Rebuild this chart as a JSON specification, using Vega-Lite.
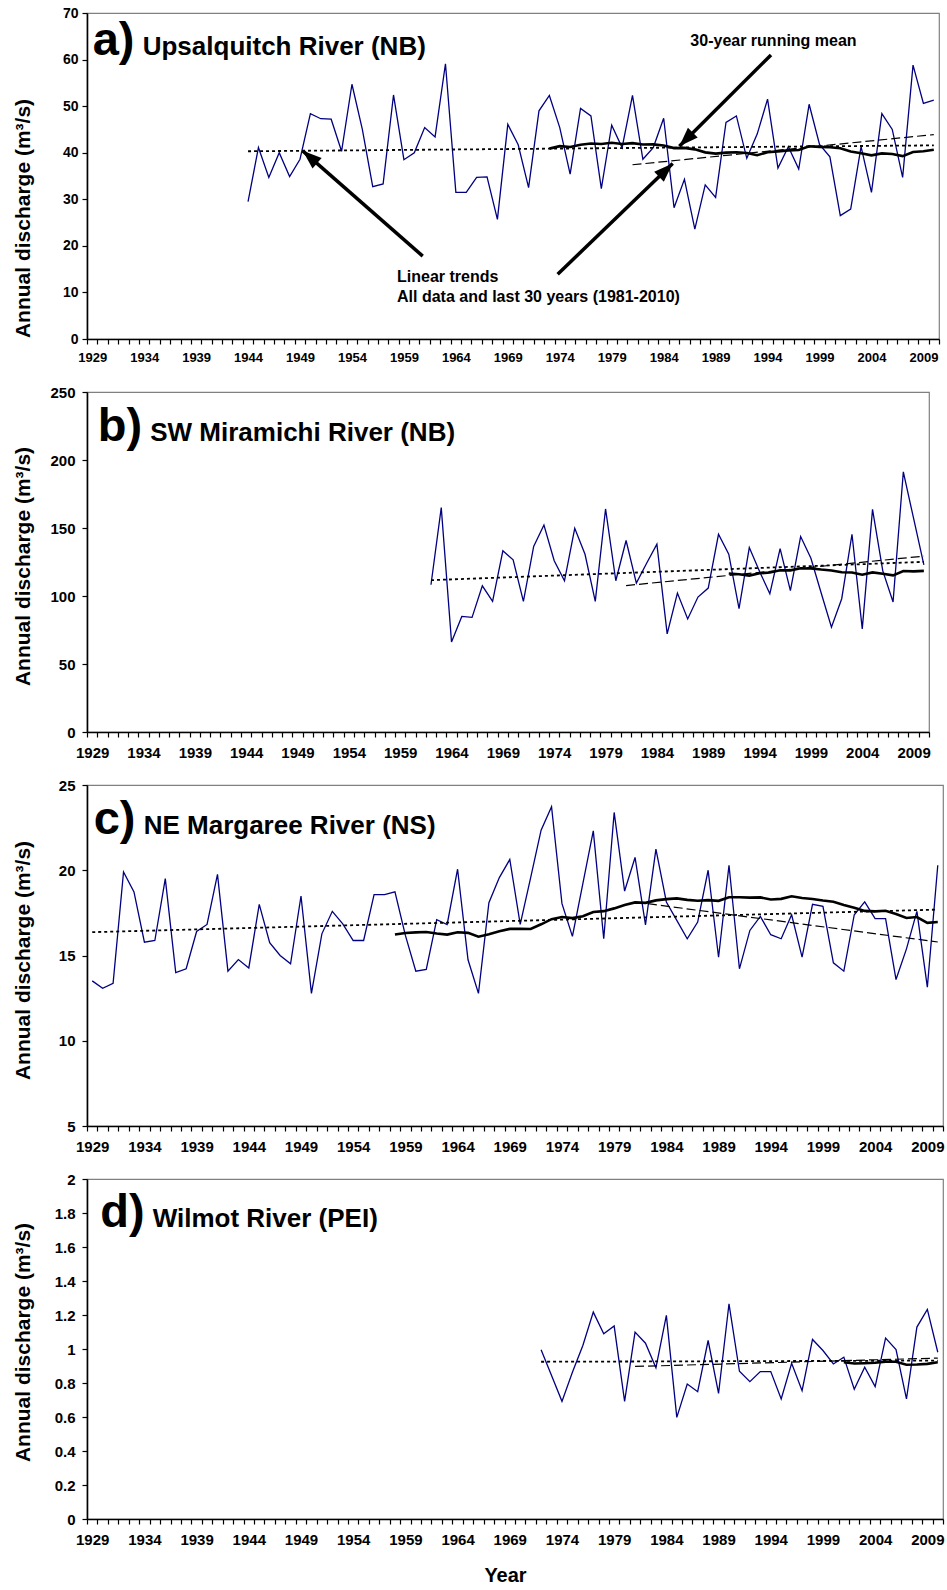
{
  "$schema": "https://vega.github.io/schema/vega-lite/v6.json",
  "background": "white",
  "padding": {"left": 11, "top": 5, "right": 5, "bottom": 5},
  "config": {
    "font": "Liberation Sans",
    "view": {"stroke": "#808080", "strokeWidth": 1.2},
    "axis": {
      "grid": false,
      "domainColor": "#000000",
      "domainWidth": 1.6,
      "tickColor": "#000000",
      "tickWidth": 1.2,
      "tickSize": 5,
      "labelColor": "#000000",
      "labelFont": "Liberation Sans",
      "labelFontWeight": "bold",
      "titleColor": "#000000",
      "titleFont": "Liberation Sans",
      "titleFontWeight": "bold"
    }
  },
  "datasets": {
    "upsalquitch": [
      {"year": 1944, "q": 29.5}, {"year": 1945, "q": 41.1}, {"year": 1946, "q": 34.7}, {"year": 1947, "q": 40.0},
      {"year": 1948, "q": 34.9}, {"year": 1949, "q": 38.6}, {"year": 1950, "q": 48.4}, {"year": 1951, "q": 47.3},
      {"year": 1952, "q": 47.2}, {"year": 1953, "q": 40.3}, {"year": 1954, "q": 54.7}, {"year": 1955, "q": 45.0},
      {"year": 1956, "q": 32.7}, {"year": 1957, "q": 33.3}, {"year": 1958, "q": 52.4}, {"year": 1959, "q": 38.5},
      {"year": 1960, "q": 40.0}, {"year": 1961, "q": 45.4}, {"year": 1962, "q": 43.4}, {"year": 1963, "q": 59.1},
      {"year": 1964, "q": 31.5}, {"year": 1965, "q": 31.5}, {"year": 1966, "q": 34.7}, {"year": 1967, "q": 34.8},
      {"year": 1968, "q": 25.7}, {"year": 1969, "q": 46.1}, {"year": 1970, "q": 41.7}, {"year": 1971, "q": 32.5},
      {"year": 1972, "q": 49.0}, {"year": 1973, "q": 52.3}, {"year": 1974, "q": 45.4}, {"year": 1975, "q": 35.4},
      {"year": 1976, "q": 49.5}, {"year": 1977, "q": 47.9}, {"year": 1978, "q": 32.3}, {"year": 1979, "q": 45.9},
      {"year": 1980, "q": 41.1}, {"year": 1981, "q": 52.3}, {"year": 1982, "q": 38.6}, {"year": 1983, "q": 41.1},
      {"year": 1984, "q": 47.4}, {"year": 1985, "q": 28.2}, {"year": 1986, "q": 34.3}, {"year": 1987, "q": 23.6},
      {"year": 1988, "q": 33.1}, {"year": 1989, "q": 30.4}, {"year": 1990, "q": 46.5}, {"year": 1991, "q": 47.9},
      {"year": 1992, "q": 38.8}, {"year": 1993, "q": 44.0}, {"year": 1994, "q": 51.5}, {"year": 1995, "q": 36.7},
      {"year": 1996, "q": 41.3}, {"year": 1997, "q": 36.5}, {"year": 1998, "q": 50.4}, {"year": 1999, "q": 41.8},
      {"year": 2000, "q": 39.1}, {"year": 2001, "q": 26.5}, {"year": 2002, "q": 27.9}, {"year": 2003, "q": 41.3},
      {"year": 2004, "q": 31.5}, {"year": 2005, "q": 48.4}, {"year": 2006, "q": 45.0}, {"year": 2007, "q": 34.7},
      {"year": 2008, "q": 58.8}, {"year": 2009, "q": 50.6}, {"year": 2010, "q": 51.3}
    ],
    "miramichi": [
      {"year": 1962, "q": 108.3}, {"year": 1963, "q": 165.0}, {"year": 1964, "q": 66.2}, {"year": 1965, "q": 85.0},
      {"year": 1966, "q": 84.3}, {"year": 1967, "q": 107.5}, {"year": 1968, "q": 96.0}, {"year": 1969, "q": 133.2},
      {"year": 1970, "q": 126.6}, {"year": 1971, "q": 96.0}, {"year": 1972, "q": 136.4}, {"year": 1973, "q": 152.2},
      {"year": 1974, "q": 125.9}, {"year": 1975, "q": 111.2}, {"year": 1976, "q": 149.8}, {"year": 1977, "q": 130.7},
      {"year": 1978, "q": 96.0}, {"year": 1979, "q": 164.0}, {"year": 1980, "q": 111.2}, {"year": 1981, "q": 140.8},
      {"year": 1982, "q": 109.5}, {"year": 1983, "q": 124.1}, {"year": 1984, "q": 138.1}, {"year": 1985, "q": 72.1},
      {"year": 1986, "q": 102.2}, {"year": 1987, "q": 83.1}, {"year": 1988, "q": 99.2}, {"year": 1989, "q": 105.8},
      {"year": 1990, "q": 145.4}, {"year": 1991, "q": 130.7}, {"year": 1992, "q": 90.7}, {"year": 1993, "q": 135.6},
      {"year": 1994, "q": 118.0}, {"year": 1995, "q": 101.7}, {"year": 1996, "q": 134.9}, {"year": 1997, "q": 103.9},
      {"year": 1998, "q": 143.7}, {"year": 1999, "q": 127.8}, {"year": 2000, "q": 102.2}, {"year": 2001, "q": 77.0},
      {"year": 2002, "q": 98.0}, {"year": 2003, "q": 145.4}, {"year": 2004, "q": 75.8}, {"year": 2005, "q": 163.7},
      {"year": 2006, "q": 118.5}, {"year": 2007, "q": 95.6}, {"year": 2008, "q": 191.3}, {"year": 2009, "q": 157.0},
      {"year": 2010, "q": 122.9}
    ],
    "margaree": [
      {"year": 1929, "q": 13.51}, {"year": 1930, "q": 13.08}, {"year": 1931, "q": 13.37}, {"year": 1932, "q": 19.9},
      {"year": 1933, "q": 18.73}, {"year": 1934, "q": 15.78}, {"year": 1935, "q": 15.88}, {"year": 1936, "q": 19.51},
      {"year": 1937, "q": 14.0}, {"year": 1938, "q": 14.22}, {"year": 1939, "q": 16.41}, {"year": 1940, "q": 16.82},
      {"year": 1941, "q": 19.76}, {"year": 1942, "q": 14.08}, {"year": 1943, "q": 14.76}, {"year": 1944, "q": 14.27},
      {"year": 1945, "q": 18.0}, {"year": 1946, "q": 15.75}, {"year": 1947, "q": 15.0}, {"year": 1948, "q": 14.51},
      {"year": 1949, "q": 18.49}, {"year": 1950, "q": 12.78}, {"year": 1951, "q": 16.27}, {"year": 1952, "q": 17.59},
      {"year": 1953, "q": 16.86}, {"year": 1954, "q": 15.88}, {"year": 1955, "q": 15.88}, {"year": 1956, "q": 18.57},
      {"year": 1957, "q": 18.57}, {"year": 1958, "q": 18.73}, {"year": 1959, "q": 16.18}, {"year": 1960, "q": 14.08},
      {"year": 1961, "q": 14.18}, {"year": 1962, "q": 17.1}, {"year": 1963, "q": 16.82}, {"year": 1964, "q": 20.06},
      {"year": 1965, "q": 14.75}, {"year": 1966, "q": 12.78}, {"year": 1967, "q": 18.1}, {"year": 1968, "q": 19.57},
      {"year": 1969, "q": 20.63}, {"year": 1970, "q": 16.82}, {"year": 1971, "q": 19.57}, {"year": 1972, "q": 22.35},
      {"year": 1973, "q": 23.73}, {"year": 1974, "q": 18.04}, {"year": 1975, "q": 16.12}, {"year": 1976, "q": 19.22},
      {"year": 1977, "q": 22.31}, {"year": 1978, "q": 15.98}, {"year": 1979, "q": 23.39}, {"year": 1980, "q": 18.78},
      {"year": 1981, "q": 20.75}, {"year": 1982, "q": 16.8}, {"year": 1983, "q": 21.24}, {"year": 1984, "q": 18.14},
      {"year": 1985, "q": 17.06}, {"year": 1986, "q": 15.98}, {"year": 1987, "q": 16.96}, {"year": 1988, "q": 20.0},
      {"year": 1989, "q": 14.9}, {"year": 1990, "q": 20.29}, {"year": 1991, "q": 14.22}, {"year": 1992, "q": 16.47},
      {"year": 1993, "q": 17.29}, {"year": 1994, "q": 16.22}, {"year": 1995, "q": 15.98}, {"year": 1996, "q": 17.39},
      {"year": 1997, "q": 14.9}, {"year": 1998, "q": 18.0}, {"year": 1999, "q": 17.88}, {"year": 2000, "q": 14.57},
      {"year": 2001, "q": 14.08}, {"year": 2002, "q": 17.39}, {"year": 2003, "q": 18.14}, {"year": 2004, "q": 17.16},
      {"year": 2005, "q": 17.16}, {"year": 2006, "q": 13.59}, {"year": 2007, "q": 15.39}, {"year": 2008, "q": 17.59},
      {"year": 2009, "q": 13.14}, {"year": 2010, "q": 20.29}
    ],
    "wilmot": [
      {"year": 1972, "q": 0.995}, {"year": 1973, "q": 0.844}, {"year": 1974, "q": 0.692}, {"year": 1975, "q": 0.863},
      {"year": 1976, "q": 1.021}, {"year": 1977, "q": 1.217}, {"year": 1978, "q": 1.089}, {"year": 1979, "q": 1.135},
      {"year": 1980, "q": 0.692}, {"year": 1981, "q": 1.099}, {"year": 1982, "q": 1.034}, {"year": 1983, "q": 0.889},
      {"year": 1984, "q": 1.198}, {"year": 1985, "q": 0.598}, {"year": 1986, "q": 0.794}, {"year": 1987, "q": 0.749},
      {"year": 1988, "q": 1.05}, {"year": 1989, "q": 0.739}, {"year": 1990, "q": 1.266}, {"year": 1991, "q": 0.869},
      {"year": 1992, "q": 0.808}, {"year": 1993, "q": 0.867}, {"year": 1994, "q": 0.867}, {"year": 1995, "q": 0.706},
      {"year": 1996, "q": 0.916}, {"year": 1997, "q": 0.755}, {"year": 1998, "q": 1.056}, {"year": 1999, "q": 0.991},
      {"year": 2000, "q": 0.912}, {"year": 2001, "q": 0.952}, {"year": 2002, "q": 0.763}, {"year": 2003, "q": 0.893},
      {"year": 2004, "q": 0.779}, {"year": 2005, "q": 1.064}, {"year": 2006, "q": 0.997}, {"year": 2007, "q": 0.706},
      {"year": 2008, "q": 1.129}, {"year": 2009, "q": 1.233}, {"year": 2010, "q": 0.981}
    ]
  },
  "bounds": "flush",
  "spacing": 53,
  "vconcat": [
    {
      "width": 852,
      "height": 326,
      "layer": [
        {
          "data": {"name": "upsalquitch"},
          "encoding": {
            "x": {
              "field": "year", "type": "quantitative",
              "scale": {"domain": [1928.5, 2010.5], "nice": false, "zero": false},
              "axis": {
                "title": null,
                "values": [1928.5,1929.5,1930.5,1931.5,1932.5,1933.5,1934.5,1935.5,1936.5,1937.5,1938.5,1939.5,1940.5,1941.5,1942.5,1943.5,1944.5,1945.5,1946.5,1947.5,1948.5,1949.5,1950.5,1951.5,1952.5,1953.5,1954.5,1955.5,1956.5,1957.5,1958.5,1959.5,1960.5,1961.5,1962.5,1963.5,1964.5,1965.5,1966.5,1967.5,1968.5,1969.5,1970.5,1971.5,1972.5,1973.5,1974.5,1975.5,1976.5,1977.5,1978.5,1979.5,1980.5,1981.5,1982.5,1983.5,1984.5,1985.5,1986.5,1987.5,1988.5,1989.5,1990.5,1991.5,1992.5,1993.5,1994.5,1995.5,1996.5,1997.5,1998.5,1999.5,2000.5,2001.5,2002.5,2003.5,2004.5,2005.5,2006.5,2007.5,2008.5,2009.5,2010.5],
                "tickCount": 500,
                "labelExpr": "(datum.value + 0.5 - 1929) % 5 == 0 ? format(datum.value + 0.5, 'd') : ''",
                "labelOffset": 5.2,
                "labelOverlap": false,
                "labelFlush": false,
                "labelBound": false,
                "labelFontSize": 13,
                "labelPadding": 7
              }
            },
            "y": {
              "field": "q", "type": "quantitative",
              "scale": {"domain": [0, 70], "nice": false, "zero": false},
              "axis": {
                "title": "Annual discharge (m³/s)",
                "values": [0, 10, 20, 30, 40, 50, 60, 70],
                "format": "d",
                "tickCount": 100,
                "labelOverlap": false,
                "titleFontSize": 21,
                "titleAngle": 270,
                "titleAlign": "center",
                "titleBaseline": "middle",
                "titleX": -64,
                "titleY": 205,
                "labelFontSize": 14,
                "labelPadding": 4
              }
            }
          },
          "layer": [
            {"mark": {"type": "line", "color": "#000080", "strokeWidth": 1.3}},
            {
              "transform": [{"regression": "q", "on": "year"}],
              "mark": {"type": "line", "color": "#000000", "strokeWidth": 1.8, "strokeDash": [3, 3]}
            },
            {
              "transform": [{"filter": "datum.year >= 1981"}, {"regression": "q", "on": "year"}],
              "mark": {"type": "line", "color": "#000000", "strokeWidth": 1.2, "strokeDash": [9, 4]}
            },
            {
              "transform": [
                {"window": [{"op": "mean", "field": "q", "as": "rm"}, {"op": "count", "as": "n"}], "frame": [-29, 0], "sort": [{"field": "year"}]},
                {"filter": "datum.n == 30"}
              ],
              "mark": {"type": "line", "color": "#000000", "strokeWidth": 2.6},
              "encoding": {"y": {"field": "rm", "type": "quantitative"}}
            }
          ]
        },
        {
          "data": {"values": [{"note": 1}]},
          "mark": {"type": "text", "text": "a)", "fontSize": 47, "fontWeight": "bold", "color": "#000000", "align": "left", "baseline": "alphabetic"},
          "encoding": {"x": {"datum": 1929.05, "type": "quantitative"}, "y": {"datum": 61.0, "type": "quantitative"}}
        },
        {
          "data": {"values": [{"note": 1}]},
          "mark": {"type": "text", "text": "Upsalquitch River (NB)", "fontSize": 26, "fontWeight": "bold", "color": "#000000", "align": "left", "baseline": "alphabetic"},
          "encoding": {"x": {"datum": 1933.86, "type": "quantitative"}, "y": {"datum": 61.0, "type": "quantitative"}}
        },
        {
          "data": {"values": [{"note": 1}]},
          "mark": {"type": "text", "text": "30-year running mean", "fontSize": 16, "fontWeight": "bold", "color": "#000000", "align": "left", "baseline": "alphabetic"},
          "encoding": {"x": {"datum": 1986.57, "type": "quantitative"}, "y": {"datum": 62.9, "type": "quantitative"}}
        },
        {
          "data": {"values": [{"note": 1}]},
          "mark": {"type": "text", "text": ["Linear trends", "All data and last 30 years (1981-2010)"], "lineHeight": 20, "fontSize": 16, "fontWeight": "bold", "color": "#000000", "align": "left", "baseline": "alphabetic"},
          "encoding": {"x": {"datum": 1958.34, "type": "quantitative"}, "y": {"datum": 12.24, "type": "quantitative"}}
        },
        {
          "data": {"values": [{"note": 1}]},
          "mark": {"type": "rule", "color": "#000000", "strokeWidth": 3.5},
          "encoding": {
            "x": {"datum": 1960.81, "type": "quantitative"}, "y": {"datum": 17.8, "type": "quantitative"},
            "x2": {"datum": 1949.26}, "y2": {"datum": 40.4}
          }
        },
        {
          "data": {"values": [{"note": 1}]},
          "mark": {"type": "point", "shape": "M0,0L-0.8,2.2L0.8,2.2Z", "filled": true, "size": 300, "angle": 311, "color": "#000000", "opacity": 1},
          "encoding": {"x": {"datum": 1949.26, "type": "quantitative"}, "y": {"datum": 40.4, "type": "quantitative"}}
        },
        {
          "data": {"values": [{"note": 1}]},
          "mark": {"type": "rule", "color": "#000000", "strokeWidth": 3.5},
          "encoding": {
            "x": {"datum": 1994.33, "type": "quantitative"}, "y": {"datum": 61.0, "type": "quantitative"},
            "x2": {"datum": 1985.51}, "y2": {"datum": 41.4}
          }
        },
        {
          "data": {"values": [{"note": 1}]},
          "mark": {"type": "point", "shape": "M0,0L-0.8,2.2L0.8,2.2Z", "filled": true, "size": 300, "angle": 225, "color": "#000000", "opacity": 1},
          "encoding": {"x": {"datum": 1985.51, "type": "quantitative"}, "y": {"datum": 41.4, "type": "quantitative"}}
        },
        {
          "data": {"values": [{"note": 1}]},
          "mark": {"type": "rule", "color": "#000000", "strokeWidth": 3.5},
          "encoding": {
            "x": {"datum": 1973.8, "type": "quantitative"}, "y": {"datum": 13.9, "type": "quantitative"},
            "x2": {"datum": 1984.87}, "y2": {"datum": 37.7}
          }
        },
        {
          "data": {"values": [{"note": 1}]},
          "mark": {"type": "point", "shape": "M0,0L-0.8,2.2L0.8,2.2Z", "filled": true, "size": 300, "angle": 46, "color": "#000000", "opacity": 1},
          "encoding": {"x": {"datum": 1984.87, "type": "quantitative"}, "y": {"datum": 37.7, "type": "quantitative"}}
        }
      ]
    },
    {
      "width": 842,
      "height": 340,
      "layer": [
        {
          "data": {"name": "miramichi"},
          "encoding": {
            "x": {
              "field": "year", "type": "quantitative",
              "scale": {"domain": [1928.5, 2010.5], "nice": false, "zero": false},
              "axis": {
                "title": null,
                "values": [1928.5,1929.5,1930.5,1931.5,1932.5,1933.5,1934.5,1935.5,1936.5,1937.5,1938.5,1939.5,1940.5,1941.5,1942.5,1943.5,1944.5,1945.5,1946.5,1947.5,1948.5,1949.5,1950.5,1951.5,1952.5,1953.5,1954.5,1955.5,1956.5,1957.5,1958.5,1959.5,1960.5,1961.5,1962.5,1963.5,1964.5,1965.5,1966.5,1967.5,1968.5,1969.5,1970.5,1971.5,1972.5,1973.5,1974.5,1975.5,1976.5,1977.5,1978.5,1979.5,1980.5,1981.5,1982.5,1983.5,1984.5,1985.5,1986.5,1987.5,1988.5,1989.5,1990.5,1991.5,1992.5,1993.5,1994.5,1995.5,1996.5,1997.5,1998.5,1999.5,2000.5,2001.5,2002.5,2003.5,2004.5,2005.5,2006.5,2007.5,2008.5,2009.5,2010.5],
                "tickCount": 500,
                "labelExpr": "(datum.value + 0.5 - 1929) % 5 == 0 ? format(datum.value + 0.5, 'd') : ''",
                "labelOffset": 5.13,
                "labelOverlap": false,
                "labelFlush": false,
                "labelBound": false,
                "labelFontSize": 15,
                "labelPadding": 8
              }
            },
            "y": {
              "field": "q", "type": "quantitative",
              "scale": {"domain": [0, 250], "nice": false, "zero": false},
              "axis": {
                "title": "Annual discharge (m³/s)",
                "values": [0, 50, 100, 150, 200, 250],
                "format": "d",
                "tickCount": 100,
                "labelOverlap": false,
                "titleFontSize": 21,
                "titleAngle": 270,
                "titleAlign": "center",
                "titleBaseline": "middle",
                "titleX": -64,
                "titleY": 174,
                "labelFontSize": 15,
                "labelPadding": 7
              }
            }
          },
          "layer": [
            {"mark": {"type": "line", "color": "#000080", "strokeWidth": 1.3}},
            {
              "transform": [{"regression": "q", "on": "year"}],
              "mark": {"type": "line", "color": "#000000", "strokeWidth": 1.8, "strokeDash": [3, 3]}
            },
            {
              "transform": [{"filter": "datum.year >= 1981"}, {"regression": "q", "on": "year"}],
              "mark": {"type": "line", "color": "#000000", "strokeWidth": 1.2, "strokeDash": [9, 4]}
            },
            {
              "transform": [
                {"window": [{"op": "mean", "field": "q", "as": "rm"}, {"op": "count", "as": "n"}], "frame": [-29, 0], "sort": [{"field": "year"}]},
                {"filter": "datum.n == 30"}
              ],
              "mark": {"type": "line", "color": "#000000", "strokeWidth": 2.6},
              "encoding": {"y": {"field": "rm", "type": "quantitative"}}
            }
          ]
        },
        {
          "data": {"values": [{"note": 1}]},
          "mark": {"type": "text", "text": "b)", "fontSize": 47, "fontWeight": "bold", "color": "#000000", "align": "left", "baseline": "alphabetic"},
          "encoding": {"x": {"datum": 1929.54, "type": "quantitative"}, "y": {"datum": 214, "type": "quantitative"}}
        },
        {
          "data": {"values": [{"note": 1}]},
          "mark": {"type": "text", "text": "SW Miramichi River (NB)", "fontSize": 26, "fontWeight": "bold", "color": "#000000", "align": "left", "baseline": "alphabetic"},
          "encoding": {"x": {"datum": 1934.66, "type": "quantitative"}, "y": {"datum": 214, "type": "quantitative"}}
        }
      ]
    },
    {
      "width": 856,
      "height": 341,
      "layer": [
        {
          "data": {"name": "margaree"},
          "encoding": {
            "x": {
              "field": "year", "type": "quantitative",
              "scale": {"domain": [1928.5, 2010.5], "nice": false, "zero": false},
              "axis": {
                "title": null,
                "values": [1928.5,1929.5,1930.5,1931.5,1932.5,1933.5,1934.5,1935.5,1936.5,1937.5,1938.5,1939.5,1940.5,1941.5,1942.5,1943.5,1944.5,1945.5,1946.5,1947.5,1948.5,1949.5,1950.5,1951.5,1952.5,1953.5,1954.5,1955.5,1956.5,1957.5,1958.5,1959.5,1960.5,1961.5,1962.5,1963.5,1964.5,1965.5,1966.5,1967.5,1968.5,1969.5,1970.5,1971.5,1972.5,1973.5,1974.5,1975.5,1976.5,1977.5,1978.5,1979.5,1980.5,1981.5,1982.5,1983.5,1984.5,1985.5,1986.5,1987.5,1988.5,1989.5,1990.5,1991.5,1992.5,1993.5,1994.5,1995.5,1996.5,1997.5,1998.5,1999.5,2000.5,2001.5,2002.5,2003.5,2004.5,2005.5,2006.5,2007.5,2008.5,2009.5,2010.5],
                "tickCount": 500,
                "labelExpr": "(datum.value + 0.5 - 1929) % 5 == 0 ? format(datum.value + 0.5, 'd') : ''",
                "labelOffset": 5.22,
                "labelOverlap": false,
                "labelFlush": false,
                "labelBound": false,
                "labelFontSize": 15,
                "labelPadding": 8
              }
            },
            "y": {
              "field": "q", "type": "quantitative",
              "scale": {"domain": [5, 25], "nice": false, "zero": false},
              "axis": {
                "title": "Annual discharge (m³/s)",
                "values": [5, 10, 15, 20, 25],
                "format": "d",
                "tickCount": 100,
                "labelOverlap": false,
                "titleFontSize": 21,
                "titleAngle": 270,
                "titleAlign": "center",
                "titleBaseline": "middle",
                "titleX": -64,
                "titleY": 175,
                "labelFontSize": 15,
                "labelPadding": 7
              }
            }
          },
          "layer": [
            {"mark": {"type": "line", "color": "#000080", "strokeWidth": 1.3}},
            {
              "transform": [{"regression": "q", "on": "year"}],
              "mark": {"type": "line", "color": "#000000", "strokeWidth": 1.8, "strokeDash": [3, 3]}
            },
            {
              "transform": [{"filter": "datum.year >= 1981"}, {"regression": "q", "on": "year"}],
              "mark": {"type": "line", "color": "#000000", "strokeWidth": 1.2, "strokeDash": [9, 4]}
            },
            {
              "transform": [
                {"window": [{"op": "mean", "field": "q", "as": "rm"}, {"op": "count", "as": "n"}], "frame": [-29, 0], "sort": [{"field": "year"}]},
                {"filter": "datum.n == 30"}
              ],
              "mark": {"type": "line", "color": "#000000", "strokeWidth": 2.6},
              "encoding": {"y": {"field": "rm", "type": "quantitative"}}
            }
          ]
        },
        {
          "data": {"values": [{"note": 1}]},
          "mark": {"type": "text", "text": "c)", "fontSize": 47, "fontWeight": "bold", "color": "#000000", "align": "left", "baseline": "alphabetic"},
          "encoding": {"x": {"datum": 1929.14, "type": "quantitative"}, "y": {"datum": 22.13, "type": "quantitative"}}
        },
        {
          "data": {"values": [{"note": 1}]},
          "mark": {"type": "text", "text": "NE Margaree River (NS)", "fontSize": 26, "fontWeight": "bold", "color": "#000000", "align": "left", "baseline": "alphabetic"},
          "encoding": {"x": {"datum": 1933.93, "type": "quantitative"}, "y": {"datum": 22.13, "type": "quantitative"}}
        }
      ]
    },
    {
      "width": 856,
      "height": 340,
      "layer": [
        {
          "data": {"name": "wilmot"},
          "encoding": {
            "x": {
              "field": "year", "type": "quantitative",
              "scale": {"domain": [1928.5, 2010.5], "nice": false, "zero": false},
              "axis": {
                "title": "Year",
                "titleFontSize": 20,
                "titleBaseline": "top",
                "titleX": 418,
                "titleY": 46,
                "values": [1928.5,1929.5,1930.5,1931.5,1932.5,1933.5,1934.5,1935.5,1936.5,1937.5,1938.5,1939.5,1940.5,1941.5,1942.5,1943.5,1944.5,1945.5,1946.5,1947.5,1948.5,1949.5,1950.5,1951.5,1952.5,1953.5,1954.5,1955.5,1956.5,1957.5,1958.5,1959.5,1960.5,1961.5,1962.5,1963.5,1964.5,1965.5,1966.5,1967.5,1968.5,1969.5,1970.5,1971.5,1972.5,1973.5,1974.5,1975.5,1976.5,1977.5,1978.5,1979.5,1980.5,1981.5,1982.5,1983.5,1984.5,1985.5,1986.5,1987.5,1988.5,1989.5,1990.5,1991.5,1992.5,1993.5,1994.5,1995.5,1996.5,1997.5,1998.5,1999.5,2000.5,2001.5,2002.5,2003.5,2004.5,2005.5,2006.5,2007.5,2008.5,2009.5,2010.5],
                "tickCount": 500,
                "labelExpr": "(datum.value + 0.5 - 1929) % 5 == 0 ? format(datum.value + 0.5, 'd') : ''",
                "labelOffset": 5.22,
                "labelOverlap": false,
                "labelFlush": false,
                "labelBound": false,
                "labelFontSize": 15,
                "labelPadding": 8
              }
            },
            "y": {
              "field": "q", "type": "quantitative",
              "scale": {"domain": [0, 2], "nice": false, "zero": false},
              "axis": {
                "title": "Annual discharge (m³/s)",
                "values": [0, 0.2, 0.4, 0.6, 0.8, 1, 1.2, 1.4, 1.6, 1.8, 2],
                "tickCount": 100,
                "labelOverlap": false,
                "format": "~g",
                "titleFontSize": 21,
                "titleAngle": 270,
                "titleAlign": "center",
                "titleBaseline": "middle",
                "titleX": -64,
                "titleY": 163,
                "labelFontSize": 15,
                "labelPadding": 7
              }
            }
          },
          "layer": [
            {"mark": {"type": "line", "color": "#000080", "strokeWidth": 1.3}},
            {
              "transform": [{"regression": "q", "on": "year"}],
              "mark": {"type": "line", "color": "#000000", "strokeWidth": 1.8, "strokeDash": [3, 3]}
            },
            {
              "transform": [{"filter": "datum.year >= 1981"}, {"regression": "q", "on": "year"}],
              "mark": {"type": "line", "color": "#000000", "strokeWidth": 1.2, "strokeDash": [9, 4]}
            },
            {
              "transform": [
                {"window": [{"op": "mean", "field": "q", "as": "rm"}, {"op": "count", "as": "n"}], "frame": [-29, 0], "sort": [{"field": "year"}]},
                {"filter": "datum.n == 30"}
              ],
              "mark": {"type": "line", "color": "#000000", "strokeWidth": 2.6},
              "encoding": {"y": {"field": "rm", "type": "quantitative"}}
            }
          ]
        },
        {
          "data": {"values": [{"note": 1}]},
          "mark": {"type": "text", "text": "d)", "fontSize": 47, "fontWeight": "bold", "color": "#000000", "align": "left", "baseline": "alphabetic"},
          "encoding": {"x": {"datum": 1929.77, "type": "quantitative"}, "y": {"datum": 1.718, "type": "quantitative"}}
        },
        {
          "data": {"values": [{"note": 1}]},
          "mark": {"type": "text", "text": "Wilmot River (PEI)", "fontSize": 26, "fontWeight": "bold", "color": "#000000", "align": "left", "baseline": "alphabetic"},
          "encoding": {"x": {"datum": 1934.79, "type": "quantitative"}, "y": {"datum": 1.718, "type": "quantitative"}}
        }
      ]
    }
  ]
}
